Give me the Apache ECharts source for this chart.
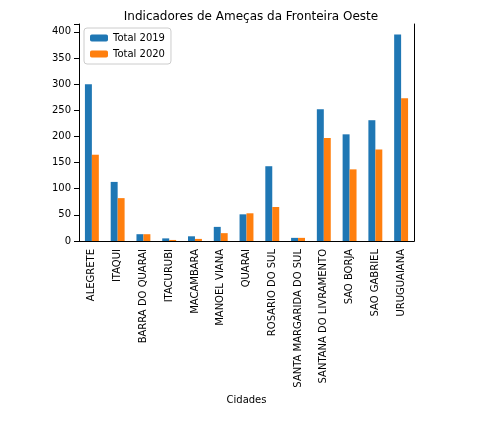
<!DOCTYPE html>
<html>
<head>
<meta charset="utf-8">
<script src="https://cdn.jsdelivr.net/npm/echarts@6/dist/echarts.min.js"></script>
<style>html,body{margin:0;padding:0;background:#fff}#main{width:478px;height:425px}</style>
</head>
<body>
<div id="main"></div>
<script>
var cidades = ['ALEGRETE','ITAQUI','BARRA DO QUARAI','ITACURUBI','MACAMBARA','MANOEL VIANA','QUARAI','ROSARIO DO SUL','SANTA MARGARIDA DO SUL','SANTANA DO LIVRAMENTO','SAO BORJA','SAO GABRIEL','URUGUAIANA'];
var total2019 = [300, 113, 13, 5, 9, 27, 51, 143, 6, 252, 204, 231, 395];
var total2020 = [165, 82, 13, 2, 4, 15, 53, 65, 6, 197, 137, 175, 273];

var myChart = echarts.init(document.getElementById('main'));
var option = {
    animation: false,
    title: {
        text: 'Indicadores de Ameças da Fronteira Oeste',
        left: 246, top: 6, textAlign: 'center',
        textStyle: {fontFamily: 'DejaVu Sans', fontSize: 12, fontWeight: 'normal', color: '#000'}
    },
    legend: {
        orient: 'vertical', left: 84, top: 28,
        itemWidth: 18, itemHeight: 7, itemGap: 6,
        padding: [5, 6], borderColor: '#ccc', borderWidth: 1, borderRadius: 3,
        textStyle: {fontFamily: 'DejaVu Sans', fontSize: 10, color: '#000'},
        data: ['Total 2019', 'Total 2020']
    },
    grid: {left: 79, right: 64, top: 24, bottom: 184},
    xAxis: [{
        type: 'category', data: cidades,
        name: 'Cidades', nameLocation: 'middle', nameGap: 150,
        nameTextStyle: {fontFamily: 'DejaVu Sans', fontSize: 10, color: '#000'},
        axisLine: {lineStyle: {color: '#000'}},
        axisTick: {alignWithLabel: true, lineStyle: {color: '#000'}},
        axisLabel: {rotate: 90, interval: 0, fontFamily: 'DejaVu Sans', fontSize: 10, color: '#000'}
    }, {
        type: 'category', data: cidades, position: 'top',
        axisLine: {show: true, lineStyle: {color: '#000'}},
        axisTick: {show: false}, axisLabel: {show: false}
    }],
    yAxis: [{
        type: 'value', min: 0, max: 415, interval: 50,
        splitLine: {show: false},
        axisLine: {show: true, lineStyle: {color: '#000'}},
        axisTick: {show: true, lineStyle: {color: '#000'}},
        axisLabel: {fontFamily: 'DejaVu Sans', fontSize: 10, color: '#000',
            formatter: function (v) { return v % 50 === 0 ? v : ''; }}
    }, {
        type: 'value', min: 0, max: 415, position: 'right',
        splitLine: {show: false},
        axisLine: {show: true, lineStyle: {color: '#000'}},
        axisTick: {show: false}, axisLabel: {show: false}
    }],
    series: [
        {name: 'Total 2019', type: 'bar', data: total2019, barGap: '0%', barCategoryGap: '46%', itemStyle: {color: '#1f77b4'}},
        {name: 'Total 2020', type: 'bar', data: total2020, itemStyle: {color: '#ff7f0e'}}
    ]
};
myChart.setOption(option);
window.addEventListener("resize", function () { myChart.resize(); });
</script>
</body>
</html>
